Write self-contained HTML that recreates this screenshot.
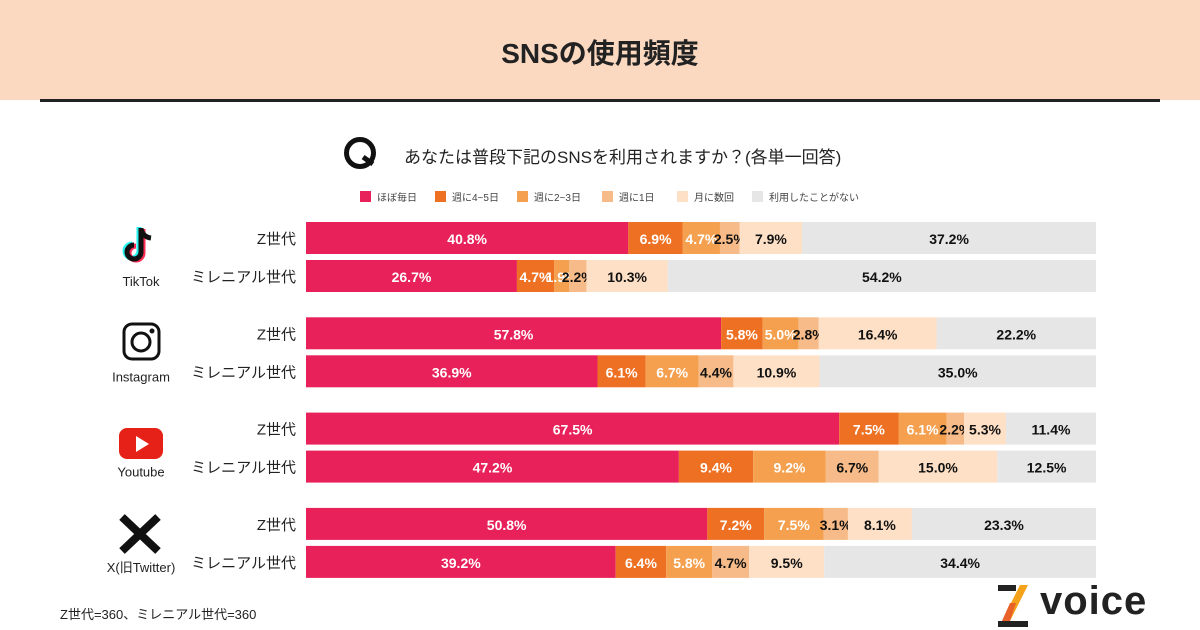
<!DOCTYPE html>
<html><head><meta charset="utf-8">
<style>
body{margin:0;width:1200px;height:630px;background:#fff;font-family:"Liberation Sans","Noto Sans CJK JP",sans-serif;position:relative;overflow:hidden}
.abs{position:absolute}
</style></head><body>
<div class="abs" style="left:0;top:0;width:1200px;height:100px;background:#fbd8c0"></div>
<div class="abs" style="left:40px;top:99px;width:1120px;height:3px;background:#222"></div>
<div class="abs" style="left:0;top:32px;width:1200px;text-align:center;font-size:28px;font-weight:bold;color:#222">SNSの使用頻度</div>
<div class="abs" style="left:344px;top:137px;width:22px;height:22px;border:5px solid #111;border-radius:50%"></div>
<div class="abs" style="left:362px;top:158px;width:12px;height:5px;background:#111;transform:rotate(35deg)"></div>
<div class="abs" style="left:404px;top:143px;font-size:17px;color:#222">あなたは普段下記のSNSを利用されますか？(各単一回答)</div>
<svg id="chart" class="abs" style="left:0;top:0" width="1200" height="630"></svg>
<div class="abs" style="left:60px;top:604px;font-size:13px;color:#222">Z世代=360、ミレニアル世代=360</div>
<div class="abs" style="left:996px;top:583px;width:170px;height:45px">
<svg width="44" height="45" style="position:absolute;left:0;top:0"><rect x="2" y="2" width="18" height="6" fill="#222"/><polygon points="24,2 32,2 14,38 6,38" fill="#f5a21b"/><polygon points="14,20 20,20 14,38 6,38" fill="#e8622a"/><rect x="2" y="38" width="30" height="6" fill="#222"/></svg>
<div style="position:absolute;left:44px;top:-4px;font-size:40px;font-weight:bold;color:#222;letter-spacing:1px">voice</div></div>
<script>
const categories=["TikTok","Instagram","Youtube","X(旧Twitter)"];
const groups=["Z世代","ミレニアル世代"];
const legendLabels=["ほぼ毎日","週に4~5日","週に2~3日","週に1日","月に数回","利用したことがない"];
const colors=["#e8215a","#ee7123","#f4a04f","#f6bb88","#fde0c6","#e6e6e6"];
const textColors=["#fff","#fff","#fff","#111","#111","#111"];
const tiktokZ=[40.8,6.9,4.7,2.5,7.9,37.2];
const tiktokM=[26.7,4.7,1.9,2.2,10.3,54.2];
const instaZ=[57.8,5.8,5.0,2.8,16.4,22.2];
const instaM=[36.9,6.1,6.7,4.4,10.9,35.0];
const ytZ=[67.5,7.5,6.1,2.2,5.3,11.4];
const ytM=[47.2,9.4,9.2,6.7,15.0,12.5];
const xZ=[50.8,7.2,7.5,3.1,8.1,23.3];
const xM=[39.2,6.4,5.8,4.7,9.5,34.4];
const series=[[tiktokZ,tiktokM],[instaZ,instaM],[ytZ,ytM],[xZ,xM]];
const svg=document.getElementById('chart');
const NS="http://www.w3.org/2000/svg";
const X0=306,W=790;
const rowY=(c,g)=>222+c*95.3+g*38;
function mk(t,a){const e=document.createElementNS(NS,t);for(const k in a)e.setAttribute(k,a[k]);svg.appendChild(e);return e;}
const lx=[360,435,517,602,677,752];
legendLabels.forEach((l,i)=>{
 const r=mk('rect',{x:lx[i],y:191,width:11,height:11,fill:colors[i]});
 
 
 const t=mk('text',{x:lx[i]+17,y:201,'font-size':10,fill:'#444'});t.textContent=l;
 
 
});
series.forEach((pair,c)=>{
 pair.forEach((vals,g)=>{
  const y=rowY(c,g);
  const total=vals.reduce((a,b)=>a+b,0);
  const xs=v=>X0+v/total*W;
  const lab=mk('text',{x:296,y:y+22,'font-size':15,fill:'#222','text-anchor':'end'});lab.textContent=groups[g];
  
  
  let acc=0;
  vals.forEach((v,i)=>{
   const x1=xs(acc),x2=xs(acc+v);acc+=v;
   const r=mk('rect',{x:x1,y:y,width:Math.max(0,x2-x1),height:32,fill:colors[i]});
   
   
   const t=mk('text',{x:(x1+x2)/2,y:y+22,'font-size':14,'font-weight':'bold',fill:textColors[i],'text-anchor':'middle'});
   t.textContent=v.toFixed(1)+'%';
   
   
  });
 });
 const cy=rowY(c,0);
 const n=mk('text',{x:141,y:cy+64,'font-size':13,fill:'#222','text-anchor':'middle'});n.textContent=categories[c];
 
 
});
function icon(html,name){const g=document.createElementNS(NS,'g');g.innerHTML=html;svg.appendChild(g);}
icon('<path d="M141 228 v24 a7 7 0 1 1 -7 -7" fill="none" stroke="#25f4ee" stroke-width="5" transform="translate(-2,-1)"/><path d="M141 228 v24 a7 7 0 1 1 -7 -7" fill="none" stroke="#fe2c55" stroke-width="5" transform="translate(2,1)"/><path d="M141 228 v24 a7 7 0 1 1 -7 -7 M141 229 q2 8 10 9" fill="none" stroke="#111" stroke-width="5"/>','tiktok-icon');
icon('<rect x="124" y="324" width="35" height="35" rx="8" fill="none" stroke="#111" stroke-width="3"/><circle cx="141" cy="342" r="9" fill="none" stroke="#111" stroke-width="3"/><circle cx="152" cy="331" r="2.5" fill="#111"/>','instagram-icon');
icon('<rect x="119" y="428" width="44" height="31" rx="8" fill="#e62117"/><polygon points="136,436 136,452 149,444" fill="#fff"/>','youtube-icon');
icon('<path d="M122 517 L158 551 M158 517 L122 551" stroke="#111" stroke-width="8"/>','x-icon');
</script>
</body></html>
